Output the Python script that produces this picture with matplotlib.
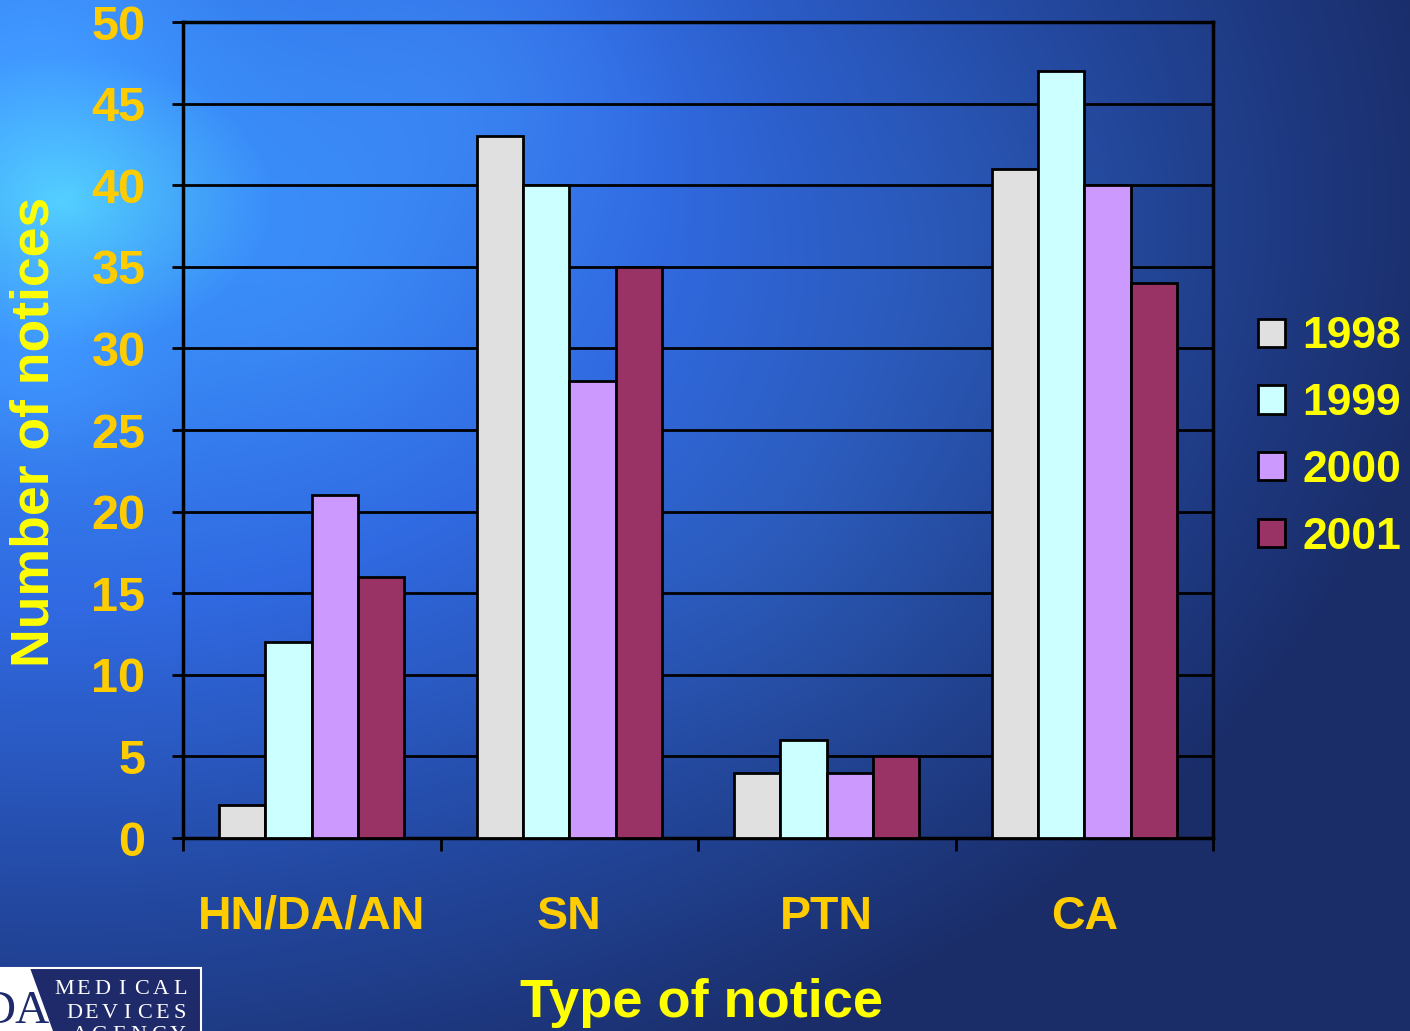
import numpy as np
import matplotlib.pyplot as plt
from matplotlib.patches import Polygon, Rectangle

plt.rcParams['font.family'] = ['Liberation Sans', 'DejaVu Sans']

categories = ["HN/DA/AN", "SN", "PTN", "CA"]
years = ["1998", "1999", "2000", "2001"]
notices = {
    "1998": [2, 43, 4, 41],
    "1999": [12, 40, 6, 47],
    "2000": [21, 28, 4, 40],
    "2001": [16, 35, 5, 34],
}
bar_colors = ["#E0E0E0", "#CCFFFF", "#CC99FF", "#993366"]
y_ticks = list(range(0, 55, 5))

W, H = 1410, 1031
fig = plt.figure(figsize=(W / 100, H / 100), dpi=100)

# slide background: bright cyan-blue in the upper left fading to navy
bg = fig.add_axes([0, 0, 1, 1], zorder=-10)
gx, gy = np.meshgrid(np.linspace(0, W, 282), np.linspace(0, H, 206))
r = np.sqrt(((gx - 60) / 1400) ** 2 + ((gy - 200) / 980) ** 2)
stops = np.array([0.0, 0.15, 0.42, 0.72, 1.0])
cols = np.array([[80, 200, 250], [55, 135, 245], [48, 105, 225],
                 [35, 72, 160], [26, 45, 105]]) / 255.0
t = np.clip(r, 0, 1)
img = np.stack([np.interp(t, stops, cols[:, k]) for k in range(3)], axis=-1)
# a few soft light patches
for cx, cy, s, amp in [(30, 40, 110, 0.12), (40, 360, 70, 0.10),
                       (480, 70, 120, 0.08), (330, 300, 110, 0.05),
                       (800, 560, 160, 0.05), (1000, 250, 140, 0.04)]:
    g = np.exp(-((gx - cx) ** 2 + (gy - cy) ** 2) / (2 * s ** 2))
    img = img + amp * g[..., None] * np.array([0.3, 0.6, 0.4])
img = np.clip(img, 0, 1)
bg.imshow(img, extent=[0, W, H, 0], aspect='auto', interpolation='bilinear')
bg.set_xlim(0, W)
bg.set_ylim(H, 0)
bg.axis('off')

ax = fig.add_axes([183 / W, 193 / H, 1030 / W, 816 / H])
ax.set_facecolor('none')

x = np.arange(len(categories)) + 0.5
w = 0.18
for i, yr in enumerate(years):
    ax.bar(x + (i - 1.5) * w, notices[yr], width=w, color=bar_colors[i],
           edgecolor='black', linewidth=2, label=yr, zorder=3)

ax.set_xlim(0, 4)
ax.set_ylim(0, 50)
ax.set_yticks(y_ticks)
ax.set_yticklabels([str(v) for v in y_ticks])
for v in y_ticks[1:-1]:
    ax.axhline(v, color='black', lw=2, zorder=1)

ax.set_xticks(range(5))
ax.set_xticklabels([])
ax.set_xticks(x, minor=True)
ax.set_xticklabels(categories, minor=True)
ax.tick_params(axis='x', which='major', direction='out', length=9, width=2,
               color='black')
ax.tick_params(axis='x', which='minor', length=0, pad=41,
               labelsize=33.5, labelcolor='#FFCC00')
ax.tick_params(axis='y', direction='out', length=8, width=2, color='black',
               pad=19, labelsize=35, labelcolor='#FFCC00')
for lab in ax.get_xticklabels(minor=True) + ax.get_yticklabels():
    lab.set_fontweight('bold')
for sp in ax.spines.values():
    sp.set_linewidth(2.5)
    sp.set_color('black')

fig.text(35 / W, 1 - 432 / H, "Number of notices", rotation=90,
         ha='center', va='center', fontsize=38.5, fontweight='bold',
         color='#FFFF00')
fig.text(701 / W, 1 - 1003 / H, "Type of notice", ha='center', va='center',
         fontsize=39, fontweight='bold', color='#FFFF00')

leg = ax.legend(loc='center left', bbox_to_anchor=(1236 / W, 1 - 437 / H),
                bbox_transform=fig.transFigure, frameon=False, fontsize=32,
                handlelength=0.6, handleheight=0.6, handletextpad=0.4,
                labelspacing=0.58, borderpad=0)
for txt in leg.get_texts():
    txt.set_color('#FFFF00')
    txt.set_fontweight('bold')

# agency logo in the lower left corner
logo = fig.add_axes([0, 0, 1, 1], zorder=5)
logo.set_xlim(0, W)
logo.set_ylim(H, 0)
logo.axis('off')
logo.add_patch(Rectangle((0, 968), 201, 70, facecolor='#1E2A6A',
                         edgecolor='white', lw=1.5))
logo.add_patch(Polygon([(0, 968), (30, 968), (53, 1031), (0, 1031)],
                       closed=True, facecolor='white', edgecolor='none'))
logo.text(-18, 1012, "DA", fontsize=34, family='Liberation Serif',
          color='#1E2A6A', ha='left', va='center')
for word, y0, x0, x1 in [("MEDICAL", 990, 64, 180), ("DEVICES", 1013, 74, 180),
                         ("AGENCY", 1036, 80, 178)]:
    for k, ch in enumerate(word):
        xc = x0 + (x1 - x0) * k / (len(word) - 1)
        logo.text(xc, y0, ch, fontsize=16, family='Liberation Serif',
                  color='white', ha='center', va='center')

fig.savefig("out.png", dpi=100)
